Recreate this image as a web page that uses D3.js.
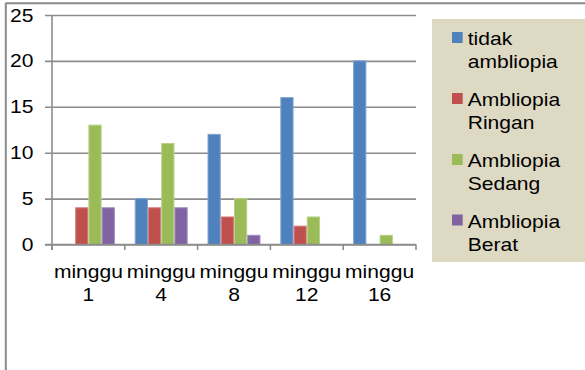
<!DOCTYPE html>
<html>
<head>
<meta charset="utf-8">
<script src="https://cdn.jsdelivr.net/npm/d3@7"></script>
<style>
  html, body { margin: 0; padding: 0; background: #fff; }
  svg { display: block; }
  text { font-family: "Liberation Sans", Arial, sans-serif; fill: #000; }
</style>
</head>
<body>
<svg id="chart" width="585" height="370"></svg>
<script>
// Weeks of observation
const weeks = ["minggu 1", "minggu 4", "minggu 8", "minggu 12", "minggu 16"];
// Series names
const seriesNames = ["tidak ambliopia", "Ambliopia Ringan", "Ambliopia Sedang", "Ambliopia Berat"];
// Counts per week, one array per series
const tidakAmbliopia   = [0, 5, 12, 16, 20];
const ambliopiaRingan  = [4, 4, 3, 2, 0];
const ambliopiaSedang  = [13, 11, 5, 3, 1];
const ambliopiaBerat   = [4, 4, 1, 0, 0];
const yTicks = [0, 5, 10, 15, 20, 25];

const seriesValues = [tidakAmbliopia, ambliopiaRingan, ambliopiaSedang, ambliopiaBerat];
const colors = ["#4F81BD", "#C0504D", "#9BBB59", "#8064A2"];
const edges  = ["#7FA3D3", "#D4807E", "#B8D186", "#A08BC0"];

const svg = d3.select("#chart");
const SX = 1.17;      // horizontal stretch of the text glyphs
const FS = 18;

function label(g, x, y, str, anchor) {
  g.append("g")
    .attr("transform", `translate(${x},${y}) scale(${SX},1)`)
    .append("text")
    .attr("font-size", FS)
    .attr("text-anchor", anchor || "start")
    .text(str);
}

// Outer frame (top and left edges visible)
svg.append("line").attr("x1", 5.5).attr("x2", 585).attr("y1", 3.3).attr("y2", 3.3)
  .attr("stroke", "#8a8a8a").attr("stroke-width", 2);
svg.append("line").attr("x1", 5.8).attr("x2", 5.8).attr("y1", 3).attr("y2", 370)
  .attr("stroke", "#8a8a8a").attr("stroke-width", 2);

const plot = { left: 52, right: 416, top: 15, bottom: 244.5 };

const y = d3.scaleLinear().domain([0, 25]).range([plot.bottom, plot.top]);
const x = d3.scaleBand().domain(weeks).range([plot.left, plot.right]).paddingInner(0).paddingOuter(0);
const bw = x.bandwidth();
const groupW = bw * 4 / 5.5;
const xs = d3.scaleBand().domain(d3.range(4)).range([(bw - groupW) / 2, (bw + groupW) / 2]).padding(0);

// Gridlines and y axis ticks
const yAxis = d3.axisLeft(y).tickValues(yTicks).tickSize(-(plot.right - plot.left)).tickFormat("");
const gy = svg.append("g").attr("transform", `translate(${plot.left},0)`).call(yAxis);
gy.select(".domain").remove();
gy.selectAll(".tick line").attr("stroke", "#8c8c8c").attr("stroke-width", 1.6).attr("x1", -7);

// Bars
seriesValues.forEach((vals, si) => {
  svg.append("g").selectAll("rect")
    .data(vals.map((v, i) => ({ week: weeks[i], v })))
    .join("rect")
    .attr("x", d => x(d.week) + xs(si) + 0.5)
    .attr("width", xs.bandwidth() - 1)
    .attr("y", d => y(d.v))
    .attr("height", d => y(0) - y(d.v))
    .attr("fill", colors[si])
    .attr("stroke", edges[si])
    .attr("stroke-width", d => d.v > 0 ? 1 : 0);
});

// Vertical axis line
svg.append("line").attr("x1", plot.left).attr("x2", plot.left)
  .attr("y1", plot.top).attr("y2", plot.bottom + 5.5)
  .attr("stroke", "#8c8c8c").attr("stroke-width", 1.6);

// Category axis with boundary ticks
const gx = svg.append("g").attr("transform", `translate(0,${plot.bottom})`);
gx.append("line").attr("x1", plot.left - 7).attr("x2", plot.right).attr("y1", 0).attr("y2", 0)
  .attr("stroke", "#8c8c8c").attr("stroke-width", 1.6);
gx.selectAll("line.tk").data(weeks.concat(["end"])).join("line").attr("class", "tk")
  .attr("x1", (d, i) => plot.left + i * bw).attr("x2", (d, i) => plot.left + i * bw)
  .attr("y1", 0).attr("y2", 5.5)
  .attr("stroke", "#8c8c8c").attr("stroke-width", 1.6);

// Y tick labels
yTicks.forEach(t => label(svg, 33.5, y(t) + 6.5, String(t), "end"));

// Category labels (two lines)
weeks.forEach(w => {
  const parts = w.split(" ");
  const cx = x(w) + bw / 2;
  label(svg, cx, 278, parts[0], "middle");
  label(svg, cx, 300.7, parts[1], "middle");
});

// Legend
const lg = svg.append("g");
lg.append("rect").attr("x", 432).attr("y", 19).attr("width", 153).attr("height", 243)
  .attr("fill", "#DDD9C3");
const baselines = [45, 106, 167, 227.5];
seriesNames.forEach((name, i) => {
  const b = baselines[i];
  lg.append("rect").attr("x", 452).attr("y", b - 13).attr("width", 10.7).attr("height", 11)
    .attr("fill", colors[i]);
  const words = name.split(" ");
  label(lg, 467.7, b, words[0], "start");
  label(lg, 467.7, b + 23.2, words.slice(1).join(" "), "start");
});
</script>
</body>
</html>
